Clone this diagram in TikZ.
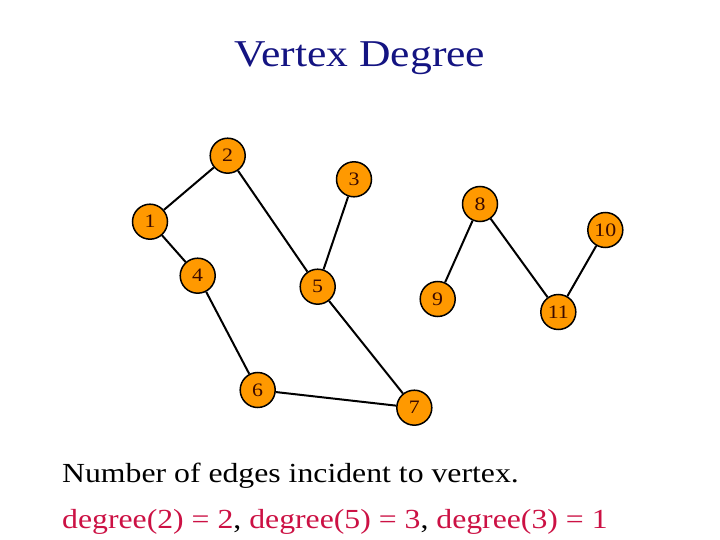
\documentclass[tikz,border=0pt]{standalone}
\usepackage{fontspec}
\setmainfont{Liberation Serif}[FakeStretch=1.15]
\definecolor{titleblue}{HTML}{141482}
\definecolor{degred}{HTML}{CC1144}
\definecolor{vfill}{HTML}{FF9900}
\definecolor{vtext}{HTML}{3A0A00}
\tikzset{
  vertex/.style={circle, draw=black, line width=1.5pt, fill=vfill, minimum size=35pt, inner sep=0pt,
    text=vtext, font=\fontsize{19}{19}\selectfont},
  edge/.style={draw=black, line width=2pt},
  titletext/.style={text=titleblue, font=\fontsize{37.9}{40}\selectfont, inner sep=0pt},
  bodytext/.style={font=\fontsize{27.6}{30}\selectfont, inner sep=0pt, anchor=base west}
}
\newcommand{\vlab}[1]{\raisebox{-3pt}{#1}}
\begin{document}
\begin{tikzpicture}[x=1pt,y=-1pt]
\useasboundingbox (0,0) rectangle (720,540);
\fill[white] (0,0) rectangle (720,540);
\node[titletext, anchor=base] (title) at (360,67) {Vertex Degree};
\node[vertex] (v1) at (150,221.7) {\vlab{1}};
\node[vertex] (v2) at (227.7,155.7) {\vlab{2}};
\node[vertex] (v3) at (354,179.3) {\vlab{3}};
\node[vertex] (v4) at (197.7,275.7) {\vlab{4}};
\node[vertex] (v5) at (317.7,286.7) {\vlab{5}};
\node[vertex] (v6) at (257.7,390) {\vlab{6}};
\node[vertex] (v7) at (414.3,407.7) {\vlab{7}};
\node[vertex] (v8) at (480,204) {\vlab{8}};
\node[vertex] (v9) at (437.7,299) {\vlab{9}};
\node[vertex] (v10) at (605.3,230) {\vlab{10}};
\node[vertex] (v11) at (558.3,312) {\vlab{11}};
\draw[edge] (v1) -- (v2);
\draw[edge] (v1) -- (v4);
\draw[edge] (v2) -- (v5);
\draw[edge] (v3) -- (v5);
\draw[edge] (v4) -- (v6);
\draw[edge] (v5) -- (v7);
\draw[edge] (v6) -- (v7);
\draw[edge] (v8) -- (v9);
\draw[edge] (v8) -- (v11);
\draw[edge] (v10) -- (v11);
\node[bodytext] (line1) at (62,482) {Number of edges incident to vertex.};
\node[bodytext] (line2) at (62,528) {\textcolor{degred}{degree(2) = 2}, \textcolor{degred}{degree(5) = 3}, \textcolor{degred}{degree(3) = 1}};
\end{tikzpicture}
\end{document}
